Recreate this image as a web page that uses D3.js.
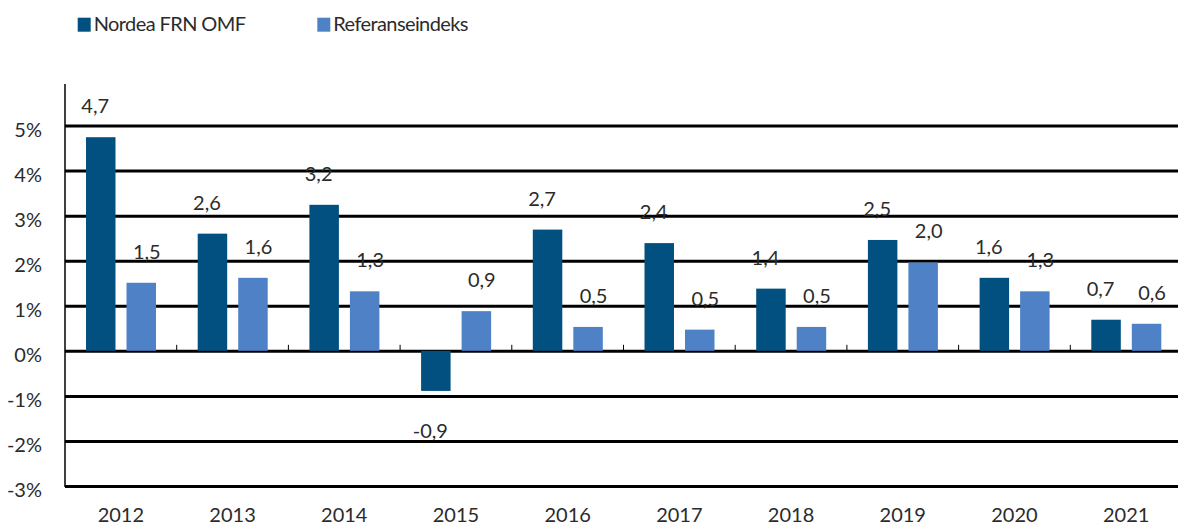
<!DOCTYPE html>
<html>
    <head>
        <meta charset="utf-8">
        <script src="https://cdn.jsdelivr.net/npm/d3@7"></script>
        <style>
            body { margin: 0; background: #fff; }
            .chart text { font-family: Lato, "Open Sans", sans-serif; font-size: 20px; fill: #2b2b2b; }
            .chart .legend text { letter-spacing: -0.6px; }
            .grid line { stroke: #000; stroke-width: 3; }
            .grid path { display: none; }
        </style>
    </head>
    <body>
        <svg class="chart" width="1178" height="527"></svg>
        <script>
            var years = ["2012","2013","2014","2015","2016","2017","2018","2019","2020","2021"];
            var nordea = [4.74, 2.60, 3.24, -0.89, 2.69, 2.39, 1.38, 2.46, 1.62, 0.69];
            var referanse = [1.51, 1.62, 1.32, 0.88, 0.53, 0.47, 0.53, 1.96, 1.32, 0.60];
            var seriesNames = ["Nordea FRN OMF", "Referanseindeks"];
            var yTicks = [-3, -2, -1, 0, 1, 2, 3, 4, 5];

            var colors = ["#01507f", "#4f81c6"];
            var svg = d3.select("svg");
            var W = 1178, left = 65;

            var x = d3.scaleBand().domain(years).range([left, left + 10 * 111.7]);
            var x1 = d3.scaleBand().domain([0, 1]).range([21, 91]).paddingInner(0.272);
            var y = d3.scaleLinear().domain([-3, 5]).range([486, 125.5]);

            // gridlines + y labels
            var yAxis = d3.axisLeft(y).tickValues(yTicks).tickSize(-(W - left)).tickFormat(function(d){ return d + "%"; });
            var grid = svg.append("g").attr("class", "grid").attr("transform", "translate(" + left + ",0)").call(yAxis);
            grid.selectAll("text").attr("x", -23).attr("dy", "0.32em").attr("transform", "translate(0,4.5)").style("text-anchor", "end");

            // y axis line
            svg.append("line").attr("x1", left).attr("x2", left).attr("y1", 84).attr("y2", 487)
               .attr("stroke", "#000").attr("stroke-width", 1.5);

            // small category ticks on the zero line
            svg.selectAll(".ctick").data(years.slice(1)).enter().append("line")
               .attr("x1", function(d){ return x(d); }).attr("x2", function(d){ return x(d); })
               .attr("y1", y(0) - 6).attr("y2", y(0))
               .attr("stroke", "#000").attr("stroke-width", 1);

            var data = years.map(function(yr, i){ return {year: yr, vals: [nordea[i], referanse[i]]}; });
            var fmt = function(v){ return v.toFixed(1).replace(".", ","); };

            var groups = svg.selectAll(".yr").data(data).enter().append("g")
                .attr("transform", function(d){ return "translate(" + x(d.year) + ",0)"; });

            groups.selectAll("rect").data(function(d){ return d.vals; }).enter().append("rect")
                .attr("x", function(d, i){ return x1(i); })
                .attr("width", x1.bandwidth())
                .attr("y", function(d){ return y(Math.max(0, d)); })
                .attr("height", function(d){ return Math.abs(y(d) - y(0)); })
                .attr("fill", function(d, i){ return colors[i]; });

            groups.selectAll(".lbl").data(function(d){ return d.vals; }).enter().append("text")
                .attr("x", function(d, i){ return x1(i) + x1.bandwidth() / 2 + (i == 0 ? -5.5 : 5.5); })
                .attr("y", function(d){ return d >= 0 ? y(d) - 24 : y(d) + 47; })
                .style("text-anchor", "middle")
                .text(fmt);

            // x labels
            svg.selectAll(".xl").data(years).enter().append("text")
               .attr("x", function(d){ return x(d) + x.bandwidth() / 2; })
               .attr("y", 522)
               .style("text-anchor", "middle")
               .text(function(d){ return d; });

            // legend
            var legX = [77.7, 317.3];
            var leg = svg.selectAll(".legend").data(seriesNames).enter().append("g")
                .attr("class", "legend")
                .attr("transform", function(d, i){ return "translate(" + legX[i] + ",0)"; });
            leg.append("rect").attr("x", 0).attr("y", 17.7).attr("width", 13).attr("height", 14)
               .attr("fill", function(d, i){ return colors[i]; });
            leg.append("text").attr("x", 16).attr("y", 31).text(function(d){ return d; });
        </script>
    </body>
</html>
